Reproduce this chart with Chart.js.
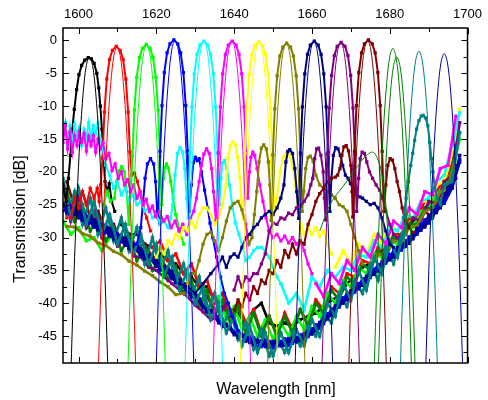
<!DOCTYPE html>
<html><head><meta charset="utf-8">
<script src="https://cdn.jsdelivr.net/npm/chart.js@4.4.1/dist/chart.umd.min.js"></script>
<style>html,body{margin:0;padding:0;background:#fff;}canvas{display:block;}</style>
</head><body>
<canvas id="c" width="488" height="400"></canvas>
<script>
// ---------- tick labels / titles ----------
const xTickLabels = [1600, 1620, 1640, 1660, 1680, 1700];
const yTickLabels = [0, -5, -10, -15, -20, -25, -30, -35, -40, -45];
const xTitle = 'Wavelength [nm]';
const yTitle = 'Transmission [dB]';

// ---------- shared wavelength grids for the noise floor ----------
const gridA = [1596,1598,1600,1602,1604,1606,1608,1610,1612,1614,1616,1618,1620,1622,1624,1626,1628,1630,1632,1634,1636,1638,1640,1642,1644,1646,1648,1650,1652,1654,1656,1658,1660,1662,1664,1666,1668,1670,1672,1674,1676,1678,1680,1682,1684,1686,1688,1690,1692,1694,1696,1698];
const gridB = [1597,1599,1601,1603,1605,1607,1609,1611,1613,1615,1617,1619,1621,1623,1625,1627,1629,1631,1633,1635,1637,1639,1641,1643,1645,1647,1649,1651,1653,1655,1657,1659,1661,1663,1665,1667,1669,1671,1673,1675,1677,1679,1681,1683,1685,1687,1689,1691,1693,1695,1697];

// ---------- floor values (dB) ----------
const blackFloor = [null,null,null,null,null,null,null,-28,-29.5,-29.5,
 -31,-31.5,-32.5,-33.5,-34,-35.5,-36,-37.5,-37.5,-39.5,
 -40,-41.5,-41.5,-43,-41,-40,-43,-43.5,-43,-43.5,
 -42.5,-42,-41.5,-40.5,-39.5,-39,-37,-36,-34.5,-34,
 -32.5,-31.5,-30.5,-29.5,-28,-27,-25.5,-24.5,-23,-21,
 -17];
const redFloor = [-27,null,null,null,null,null,null,null,null,null,
 null,-31.5,-30.5,-33.5,-32.5,-35.5,-34,-37.5,-36.5,-40,
 -38.5,-42,-40,-43,-41,-44.5,-42,-45,-41.5,-44,
 -41,-43,-39.5,-41,-37.5,-38.5,-35.5,-36,-33.5,-34,
 -31.5,-32,-29.5,-29.5,-27,-27,-24.5,-24.5,-22,-20.5,
 -15.5];
const limeFloor = [-27.5,-29.5,-28.5,-30.5,-30,-32,-30,null,null,null,
 null,null,null,null,null,null,-35.5,-38,-37.5,-40,
 -39,-42.5,-40.5,-44,-42,-45,-42.5,-45.5,-43,-45,
 -42,-44,-40.5,-42,-38.5,-40,-36.5,-37.5,-34.5,-35.5,
 -32.5,-33,-30.5,-31,-28.5,-28.5,-26,-25.5,-23.5,-22,
 -20,-15];
const blueFloor = [-24.5,-25.8,-26,-27.2,-27.5,-28.6,-28.8,-30,-30.3,-31.5,
 null,null,null,null,null,null,null,null,null,null,
 null,null,-44.2,-45.8,-45.2,-46.6,-45.8,-46.6,-45.4,-46.1,
 -44.8,-45.1,-43.3,-43.1,-40.9,-40.6,-38.5,-38.3,-36.3,-36.1,
 -34.1,-33.9,-32,-31.9,-29.9,-29.5,-27.3,-26.9,-24.4,-23.4,
 -19.5];
const blueFloor2 = [-25,-26.8,-26.2,-28,-27.6,-29.4,-29,-30.8,-30.4,-32.2,
 null,null,null,null,null,null,null,null,null,null,
 null,null,null,-45.8,-45.2,-46.6,-45.6,-46.8,-45.8,-46.4,
 -45.2,-45.6,-43.9,-43.8,-41.6,-41.2,-39.2,-39,-37,-36.8,
 -34.8,-34.6,-32.6,-32.5,-30.5,-30.2,-28,-27.8,-25.3,-24.8,
 -22.5,-18.5];
const cyanFloor = [null,null,null,null,null,null,null,null,null,null,
 null,null,null,null,null,null,null,null,null,null,
 null,null,null,null,null,null,null,null,-37,-40,
 -38.5,-41,-36,-37.5,-35,-36,-34.5,-35,-32.5,-33,
 -30.5,-31.5,-28.5,-29,-26.5,-27,-24.5,-24,-21.5,-20.5,
 -16,-11];
const magentaFloor = [null,null,null,null,null,null,null,null,null,null,
 null,null,null,null,null,null,null,null,null,null,
 null,null,null,null,null,null,null,null,null,null,
 null,null,-37,-39,-35.5,-37,-33.5,-35,-31.5,-33,
 -29.5,-31,-27.5,-28.5,-25.5,-26.5,-23,-23.5,-19.5,-19,
 -11.5];
const yellowFloor = [-24,-27,-26,-28.5,-27,-29.5,-28.5,-31,-30.5,-32.5,
 -32,-33.5,null,null,null,null,null,null,null,null,
 null,null,null,null,null,null,null,null,null,null,
 null,null,null,null,null,-34.5,-32,-34,-31,-32.5,
 -29.5,-31,-28,-29,-26.5,-27,-24.5,-24.5,-22,-21.5,
 -17.5,-10.5];
const oliveFloor = [-28.3,-28.4,-29.4,-29.8,-30.8,-31.2,-32.1,-32.6,-33.6,-34.2,
 -35.1,-35.8,-36.8,-37.5,-38.7,-38.5,null,null,null,null,
 null,null,null,null,null,null,null,null,null,null,
 null,null,null,null,null,null,null,null,null,-34.5,
 -32.5,-32.8,-30.5,-30.6,-28.5,-28.2,-26,-25.6,-23,-22.4,
 -17.5];
const navyFloor = [-24.8,-26.3,-25.9,-27.6,-27.3,-29,-28.7,-30.4,-30.1,-31.9,
 -31.7,-33.5,-33.3,-35.2,-35.2,-37.2,null,null,null,null,
 null,null,null,null,null,null,null,null,null,null,
 null,null,null,null,null,null,null,null,null,null,
 null,null,null,-31.5,-31.3,-29.3,-28.8,-26.7,-26.1,-23.6,
 -22.5,-17.5];
const navyFloor2 = [-26.2,-25.4,-27.4,-26.6,-28.8,-28.1,-30.2,-29.6,-31.7,-31.2,
 -33.2,-32.8,-34.9,-34.6,-36.8,null,null,null,null,null,
 null,null,null,null,null,null,null,null,null,null,
 null,null,null,null,null,null,null,null,null,null,
 null,null,null,-31.2,-30.9,-28.6,-28.4,-25.9,-25.5,-22.4,
 -21];
const royalFloor = [-25.9,-25.6,-27,-26.9,-28.4,-28.3,-29.8,-29.7,-31.2,-31.2,
 -32.8,-32.8,-34.4,-34.5,-36.3,-36.5,-38.4,-38.7,-40.7,-41.1,
 -43,-43.2,-44.8,-44.7,-46,-45.6,-46.6,-45.8,-46.5,-45.4,
 -45.9,-44.6,-44.7,-42.9,-42.4,-40.4,-40,-38.1,-37.8,-35.9,
 -35.6,-33.7,-33.4,-31.6,-31.4,-29.4,-28.9,-26.8,-26.2,-23.8,
 -22.4,-18.1];
const royalFloor2 = [-26.2,-26,-27.4,-27.3,-28.8,-28.7,-30.2,-30.1,-31.6,-31.6,
 -33.2,-33.2,-34.9,-35,-36.8,-37,-39,-39.3,-41.3,-41.6,
 -43.5,-43.6,-45.2,-44.9,-46.3,-45.7,-46.7,-45.8,-46.4,-45.3,
 -45.7,-44.3,-44.2,-42.3,-41.8,-39.8,-39.5,-37.6,-37.3,-35.4,
 -35.1,-33.2,-33,-31.1,-30.9,-28.7,-28.3,-26.1,-25.4,-22.7,
 -20];
const purpleFloor = [-22,-27.5,-23.5,-28.5,-26,-30,-28.5,-31.3,-30,-32.8,
 -33,-34.5,-35,-36,-37,-38,-39,-40.3,-41.3,-42.5,
 -42,-40,null,null,null,null,null,null,null,null,
 null,null,null,null,null,null,null,null,null,null,
 null,null,null,-30,-29.5,-27,-27.5,-24.5,-24.8,-21.5,
 -20.5,-12.5];
const maroonFloor = [-21.5,-25.5,-23,-27,-26,-29,-28,-30.5,-29.5,-31.5,
 -31,-33,-33,-35,-35,-37,-37,-39.5,-39,-41,
 -40.5,-42,null,null,null,null,null,null,null,null,
 null,null,null,null,null,null,null,null,null,null,
 null,null,null,null,null,-28,-26,-27,-23.5,-23,
 -16];
const dkgreenFloor = [-23,-27.5,-25,-29,-27,-30.5,-28.5,-32,-30,-33.5,
 -31.5,-35,-33,-36.5,-34.5,-38.5,-36.5,-40.5,-38,-42,
 -39.5,-43,-40.5,-44.5,-41.5,-45,-42,-45,-42,-44.5,
 -41,-43.5,-40,-41.5,-38,-39.5,-36,-37,-34,-35,
 -32,-33,-30,-30.5,-28,-28,-25.5,-25.5,-23,-22,
 -16.5];
const tealFloor = [-21,-27,-22.5,-28,-24.5,-29.5,-26.5,-31,-28,-32.5,
 -29.5,-34,-31,-35.8,-33,-38,-35,-40,-37.5,-42.5,
 -40,-44.5,-42,-46.5,-43.5,-47.5,-44.5,-48,-44.5,-47.5,
 -44,-46.5,-42.5,-45,-40,-42,-37,-39.5,-35,-38,
 -33,-35.5,-30.5,-33,-28,null,null,null,null,-22,
 -21.5,-14];
const tealFloor2 = [-26.5,-23,-28,-24,-29.5,-25.5,-30.5,-27,-32,-28.5,
 -34,-30,-35,-32,-37,-34,-39,-36,-41.5,-38.5,
 -43.5,-41,-45.5,-43,-47,-44,-48,-45,-47.5,-44.5,
 -46.5,-43.5,-45,-41.5,-43,-38.5,-40.5,-36.5,-38.5,-34,
 -36.5,-31.5,-34,-29.5,null,null,null,null,null,-23,
 -19];

// ---------- measured channel spectra [wavelength nm, dB] ----------
const blackMeas = [[1596,-22],[1596.8,-24.5],[1597.4,-21],[1597.9,-17.5],[1598.4,-13.5],[1598.9,-10.5],[1599.5,-7.5],[1600.1,-5.2],[1600.8,-3.8],[1601.6,-3],[1602.5,-2.6],[1603.3,-2.8],[1604,-3.5],[1604.7,-5],[1605.2,-7.2],[1605.6,-10],[1606,-13.5],[1606.4,-17.5],[1606.8,-21.5],[1607.3,-23],[1607.9,-21.8],[1608.5,-24.5],[1609.3,-26]];
const redMeas = [[1598,-27],[1599,-24],[1600,-25.5],[1601,-23],[1602,-25],[1603,-22.5],[1604,-24],[1604.8,-22.5],[1605.3,-24.5],[1605.7,-22],[1606.15,-17.9],[1606.65,-10.9],[1607.25,-5.9],[1607.95,-2.9],[1608.7,-1.5],[1609.7,-0.9],[1610.7,-1.5],[1611.45,-2.9],[1612.15,-5.9],[1612.75,-10.9],[1613.2,-17],[1613.7,-20.5],[1614.4,-20.2],[1615.1,-21.5],[1615.8,-23],[1616.6,-25.5],[1617.5,-27],[1618.5,-29]];
const limeMeas = [[1606.5,-25],[1607.3,-23],[1608.2,-24.5],[1609.2,-24],[1609.8,-21.5],[1610.5,-19.8],[1611.1,-19.2],[1611.8,-20],[1612.4,-23],[1612.9,-28],[1613.85,-17.6],[1614.35,-10.6],[1614.95,-5.6],[1615.65,-2.6],[1616.4,-1.2],[1617.4,-0.6],[1618.4,-1.2],[1619.15,-2.6],[1619.85,-5.6],[1620.45,-10.6],[1620.95,-17.6],[1621.35,-25],[1621.8,-21],[1622.2,-19.3],[1622.6,-18.8],[1623.1,-19.4],[1623.7,-21.5],[1624.3,-24],[1625,-26.5],[1626,-29],[1627,-31]];
const blueMeas = [[1615,-31],[1616,-28.5],[1616.6,-24.5],[1617.1,-21],[1617.7,-18.8],[1618.5,-18],[1619.3,-18.8],[1619.8,-21.5],[1620.2,-26],[1620.5,-27],[1620.95,-16.9],[1621.45,-9.9],[1622.05,-4.9],[1622.75,-1.9],[1623.5,-0.5],[1624.5,0.1],[1625.5,-0.5],[1626.25,-1.9],[1626.95,-4.9],[1627.55,-9.9],[1628.05,-16.9],[1628.5,-26],[1629,-22],[1629.5,-18.6],[1630,-17.8],[1630.5,-18.3],[1631,-18],[1631.6,-20],[1632.4,-22.8],[1633.2,-25.5],[1633.8,-27.8],[1634.5,-30],[1635.5,-33],[1636.5,-36],[1637.5,-38.5],[1638.5,-40],[1639.5,-42],[1640.5,-43.5],[1641,-44.2]];
const cyanMeas = [[1596,-14],[1596.6,-12.5],[1597.2,-16],[1597.8,-13],[1598.4,-15.5],[1599,-12.8],[1599.6,-14.5],[1600.2,-13.2],[1600.8,-16],[1601.4,-13.5],[1602,-14.8],[1602.6,-12.5],[1603.2,-15],[1603.8,-13],[1604.4,-14.2],[1605,-12.6],[1605.6,-15],[1606.2,-16.5],[1607,-19],[1608,-20.5],[1609,-22.5],[1610,-21.5],[1611,-23.5],[1612,-22.5],[1613,-24.5],[1614,-23.5],[1615,-25],[1616,-24.5],[1617,-26],[1618,-25.5],[1619,-27],[1620,-26.5],[1621,-28],[1622,-27.5],[1623,-28.5],[1623.7,-27],[1624.2,-25],[1624.8,-20.5],[1625.4,-17.2],[1626.1,-16.3],[1626.8,-17],[1627.3,-19.5],[1627.8,-24],[1628.2,-27],[1628.65,-17.1],[1629.15,-10.1],[1629.75,-5.1],[1630.45,-2.1],[1631.2,-0.7],[1632.2,-0.1],[1633.2,-0.7],[1633.95,-2.1],[1634.65,-5.1],[1635.25,-10.1],[1635.75,-17.1],[1636.2,-25],[1636.6,-21],[1637,-18.6],[1637.5,-18.3],[1638.1,-19.5],[1638.8,-22],[1639.5,-25],[1640.3,-27.8],[1641.2,-29.5],[1642.2,-31.5],[1643,-33.5],[1644,-33],[1645,-32],[1646,-31.5],[1647,-31.5],[1648,-32],[1649,-33],[1650,-34.5],[1651,-36],[1652,-37]];
const magentaMeas = [[1596,-15.5],[1596.6,-13],[1597.2,-16.5],[1597.8,-14],[1598.4,-17],[1599,-14.5],[1599.6,-16],[1600.2,-13.8],[1600.8,-15.5],[1601.4,-14.2],[1602,-16.8],[1602.6,-14.6],[1603.2,-16],[1603.8,-14.5],[1604.4,-17],[1605,-15],[1605.6,-16.5],[1606.3,-15.5],[1607,-18],[1607.8,-17.2],[1608.6,-19.8],[1609.4,-18.8],[1610.2,-21],[1611,-20],[1611.8,-22],[1612.6,-21.2],[1613.4,-23],[1614.2,-22],[1615,-24],[1615.8,-23],[1616.6,-25],[1617.4,-24.2],[1618.2,-26],[1619,-25.2],[1619.8,-26.8],[1620.8,-26],[1621.8,-27.5],[1622.8,-26.8],[1623.8,-28.5],[1624.8,-27.5],[1625.8,-29],[1626.8,-28],[1627.8,-29.5],[1628.8,-27],[1629.6,-26],[1630.3,-24],[1631,-21.5],[1631.6,-19],[1632.2,-17.3],[1632.9,-16.5],[1633.6,-17.2],[1634.2,-19.5],[1634.7,-23],[1635.3,-27.5],[1635.95,-17.1],[1636.45,-10.1],[1637.05,-5.1],[1637.75,-2.1],[1638.5,-0.7],[1639.5,-0.1],[1640.5,-0.7],[1641.25,-2.1],[1641.95,-5.1],[1642.55,-10.1],[1643.05,-17.1],[1643.5,-24],[1643.9,-20],[1644.3,-17.8],[1644.8,-17],[1645.3,-17.5],[1645.9,-19.5],[1646.6,-22],[1647.4,-24.5],[1648.2,-27],[1649,-29],[1650,-30],[1651,-29.5],[1652,-30.5],[1653,-29.8],[1654,-30.8],[1655,-30],[1656,-31],[1657,-30.5],[1658,-32],[1659,-34],[1660,-35.5]];
const yellowMeas = [[1620,-33],[1621,-31.5],[1622,-32.5],[1623,-30.5],[1624,-31],[1625,-29.5],[1626,-30],[1627,-28.5],[1628,-29],[1629,-27.5],[1630,-28.5],[1631,-26.5],[1632,-25.5],[1633,-25.5],[1634,-26.5],[1635,-28],[1636,-27],[1637,-25],[1637.9,-22],[1638.4,-18],[1639,-16],[1639.6,-15.4],[1640.3,-15.9],[1640.9,-17.8],[1641.5,-21],[1641.9,-25],[1642.3,-27.2],[1642.75,-17.2],[1643.25,-10.2],[1643.85,-5.2],[1644.55,-2.2],[1645.3,-0.8],[1646.3,-0.2],[1647.3,-0.8],[1648.05,-2.2],[1648.75,-5.2],[1649.35,-10.2],[1649.85,-17.2],[1650.3,-26],[1651,-24],[1651.8,-20],[1652.6,-17.8],[1653.4,-17.1],[1654.2,-17.4],[1655,-19],[1655.7,-22],[1656.4,-25.5],[1657.2,-28],[1658,-29.5],[1659,-28.5],[1660,-29.5],[1661,-28.5],[1662,-29.8],[1663,-29],[1664,-31],[1665,-32.5]];
const oliveMeas = [[1628,-37],[1629,-35.5],[1630,-35.5],[1631,-33.5],[1632,-31],[1633,-29.5],[1634,-29.2],[1635,-30.5],[1636,-32],[1637,-30],[1638,-27.5],[1639,-25.5],[1640,-24.8],[1641,-24.5],[1642,-25.8],[1643,-28],[1643.8,-31],[1644.6,-30],[1645.2,-26.5],[1645.8,-23],[1646.4,-18.5],[1647,-16.4],[1647.6,-15.9],[1648.3,-16.5],[1648.8,-18.5],[1649.2,-22],[1649.5,-27.4],[1649.95,-17.4],[1650.45,-10.4],[1651.05,-5.4],[1651.75,-2.4],[1652.5,-1],[1653.5,-0.4],[1654.5,-1],[1655.25,-2.4],[1655.95,-5.4],[1656.55,-10.4],[1657.05,-17.4],[1657.5,-26],[1657.9,-23],[1658.4,-19.5],[1659,-17.8],[1659.6,-17.6],[1660.3,-18.4],[1661,-20.5],[1662,-22],[1663,-22.5],[1664,-23],[1665,-23.5],[1666,-24],[1667,-25],[1668,-25.3],[1669,-26],[1670,-28],[1671,-30],[1672,-32],[1673,-34]];
const navyMeas = [[1626,-37],[1628,-37.5],[1630,-38.5],[1632,-37],[1634,-35.5],[1636,-34],[1637,-33],[1638,-34.5],[1639,-33],[1640,-32.5],[1641,-33],[1642,-31.5],[1643,-30],[1644,-29.5],[1645,-28.5],[1646,-28],[1647,-27],[1648,-26.5],[1649,-26],[1650,-26.5],[1651,-25.5],[1652,-24],[1652.8,-22],[1653.3,-18.5],[1653.8,-16.9],[1654.3,-16.6],[1655,-17.2],[1655.6,-19.5],[1656.1,-23],[1656.6,-27.1],[1657.05,-17.1],[1657.55,-10.1],[1658.15,-5.1],[1658.85,-2.1],[1659.6,-0.7],[1660.6,-0.1],[1661.6,-0.7],[1662.35,-2.1],[1663.05,-5.1],[1663.65,-10.1],[1664.15,-17.1],[1664.6,-26],[1665,-21],[1665.5,-17.5],[1666.1,-16.3],[1666.7,-16.5],[1667.3,-17.5],[1667.9,-19],[1668.6,-20.5],[1669.3,-21],[1669.9,-21.8],[1670.7,-22.5],[1671.5,-23.5],[1672.3,-23.8],[1673,-24],[1674,-24.5],[1675,-25],[1676,-24.8],[1677,-25.5],[1678,-27],[1679,-29],[1680,-31],[1681,-31.5]];
const purpleMeas = [[1640,-38],[1641,-36],[1642,-37.5],[1643,-36],[1644,-36.5],[1645,-35.5],[1646,-35.5],[1647,-34],[1648,-32.5],[1649,-29],[1650,-27.8],[1651,-28],[1652,-27],[1653,-27.2],[1654,-26.3],[1655,-26.5],[1656,-25.5],[1657,-25.2],[1658,-24.5],[1659,-23.5],[1659.7,-22],[1660.2,-21],[1660.7,-18],[1661.2,-16.5],[1661.7,-16.4],[1662.3,-17.5],[1662.9,-20],[1663.2,-24],[1663.5,-27.3],[1663.95,-17.3],[1664.45,-10.3],[1665.05,-5.3],[1665.75,-2.3],[1666.5,-0.9],[1667.5,-0.3],[1668.5,-0.9],[1669.25,-2.3],[1669.95,-5.3],[1670.55,-10.3],[1671.05,-17.3],[1671.5,-26],[1672,-21],[1672.4,-18],[1672.9,-17],[1673.5,-17.2],[1674.1,-18.5],[1674.8,-20],[1675.6,-21],[1676.5,-22],[1677.4,-22.8],[1678.2,-24],[1679,-26],[1680,-28],[1681,-29.5],[1682,-30]];
const maroonMeas = [[1640,-41],[1641,-39.5],[1642,-40.5],[1643,-38.5],[1644,-39.5],[1645,-37.5],[1646,-38.5],[1647,-36.5],[1648,-37],[1649,-35],[1650,-35.5],[1651,-33.5],[1652,-34.5],[1653,-32],[1654,-33],[1655,-31],[1656,-32.5],[1657,-30.5],[1658,-31],[1659,-28],[1660,-26.5],[1661,-24.5],[1662,-23.3],[1663,-22.5],[1664,-21.5],[1665,-21],[1666,-20.8],[1666.6,-20.5],[1667.2,-19.5],[1667.7,-17.5],[1668.2,-16.2],[1668.8,-16],[1669.4,-16.8],[1670,-19],[1670.3,-23],[1670.5,-26.9],[1670.95,-16.9],[1671.45,-9.9],[1672.05,-4.9],[1672.75,-1.9],[1673.5,-0.5],[1674.5,0.1],[1675.5,-0.5],[1676.25,-1.9],[1676.95,-4.9],[1677.55,-9.9],[1678.05,-16.9],[1678.5,-26],[1679,-22],[1679.5,-19],[1680.1,-18],[1680.7,-18.2],[1681.3,-19.5],[1681.9,-21.5],[1682.5,-23],[1683.2,-25.5],[1684,-27.5],[1685,-28.5],[1686,-29.2]];
const tealMeas = [[1683.5,-27],[1684.2,-24],[1684.8,-21.5],[1685.4,-19],[1685.9,-17.2],[1686.4,-15.2],[1686.9,-13.5],[1687.5,-12.2],[1688.1,-11.5],[1688.6,-11.4],[1689.2,-11.8],[1689.8,-13],[1690.3,-15.5],[1690.7,-18],[1691.1,-20],[1691.6,-22.5],[1692.2,-24],[1693,-25],[1694,-22]];

// ---------- simulated (thin line) spectra [wavelength nm, dB] ----------
const simBlack = [[1597.6,-59.3],[1598.8,-36.1],[1599.6,-24],[1600.4,-14.6],[1601.2,-7.9],[1602,-3.8],[1602.8,-2.5],[1603.6,-3.8],[1604.4,-7.9],[1605.2,-14.6],[1606,-24],[1606.8,-36.1],[1608,-59.3]];
const simRed = [[1604.7,-57.8],[1605.9,-34.6],[1606.7,-22.5],[1607.5,-13.1],[1608.3,-6.4],[1609.1,-2.3],[1609.9,-1],[1610.7,-2.3],[1611.5,-6.4],[1612.3,-13.1],[1613.1,-22.5],[1613.9,-34.6],[1615.1,-57.8]];
const simLime = [[1612.3,-57.5],[1613.5,-34.3],[1614.3,-22.2],[1615.1,-12.8],[1615.9,-6.1],[1616.7,-2],[1617.5,-0.7],[1618.3,-2],[1619.1,-6.1],[1619.9,-12.8],[1620.7,-22.2],[1621.5,-34.3],[1622.7,-57.5]];
const simBlue = [[1619.6,-56.8],[1620.8,-33.6],[1621.6,-21.5],[1622.4,-12.1],[1623.2,-5.4],[1624,-1.3],[1624.8,0],[1625.6,-1.3],[1626.4,-5.4],[1627.2,-12.1],[1628,-21.5],[1628.8,-33.6],[1630,-56.8]];
const simCyan = [[1627,-56.9],[1628.2,-33.7],[1629,-21.6],[1629.8,-12.2],[1630.6,-5.5],[1631.4,-1.4],[1632.2,-0.1],[1633,-1.4],[1633.8,-5.5],[1634.6,-12.2],[1635.4,-21.6],[1636.2,-33.7],[1637.4,-56.9]];
const simMagenta = [[1634.2,-56.9],[1635.4,-33.7],[1636.2,-21.6],[1637,-12.2],[1637.8,-5.5],[1638.6,-1.4],[1639.4,-0.1],[1640.2,-1.4],[1641,-5.5],[1641.8,-12.2],[1642.6,-21.6],[1643.4,-33.7],[1644.6,-56.9]];
const simYellow = [[1641.2,-57],[1642.4,-33.8],[1643.2,-21.7],[1644,-12.3],[1644.8,-5.6],[1645.6,-1.5],[1646.4,-0.2],[1647.2,-1.5],[1648,-5.6],[1648.8,-12.3],[1649.6,-21.7],[1650.4,-33.8],[1651.6,-57]];
const simOlive = [[1648.2,-57.2],[1649.4,-34],[1650.2,-21.9],[1651,-12.5],[1651.8,-5.8],[1652.6,-1.7],[1653.4,-0.4],[1654.2,-1.7],[1655,-5.8],[1655.8,-12.5],[1656.6,-21.9],[1657.4,-34],[1658.6,-57.2]];
const simNavy = [[1655.3,-56.9],[1656.5,-33.7],[1657.3,-21.6],[1658.1,-12.2],[1658.9,-5.5],[1659.7,-1.4],[1660.5,-0.1],[1661.3,-1.4],[1662.1,-5.5],[1662.9,-12.2],[1663.7,-21.6],[1664.5,-33.7],[1665.7,-56.9]];
const simPurple = [[1662.2,-57.1],[1663.4,-33.9],[1664.2,-21.8],[1665,-12.4],[1665.8,-5.7],[1666.6,-1.6],[1667.4,-0.3],[1668.2,-1.6],[1669,-5.7],[1669.8,-12.4],[1670.6,-21.8],[1671.4,-33.9],[1672.6,-57.1]];
const simMaroon = [[1669.1,-56.8],[1670.3,-33.6],[1671.1,-21.5],[1671.9,-12.1],[1672.7,-5.4],[1673.5,-1.3],[1674.3,0],[1675.1,-1.3],[1675.9,-5.4],[1676.7,-12.1],[1677.5,-21.5],[1678.3,-33.6],[1679.5,-56.8]];
const simGreenA = [[1675.6,-58],[1676.8,-34.8],[1677.6,-22.7],[1678.4,-13.3],[1679.2,-6.6],[1680,-2.5],[1680.8,-1.2],[1681.6,-2.5],[1682.4,-6.6],[1683.2,-13.3],[1684,-22.7],[1684.8,-34.8],[1686,-58]];
const simGreenB = [[1676.6,-59.3],[1677.8,-36.1],[1678.6,-24],[1679.4,-14.6],[1680.2,-7.9],[1681,-3.8],[1681.8,-2.5],[1682.6,-3.8],[1683.4,-7.9],[1684.2,-14.6],[1685,-24],[1685.8,-36.1],[1687,-59.3]];
const simGreenSide = [[1662,-29],[1664.8,-24.8],[1668,-22.2],[1671.1,-19.7],[1673.5,-17.8],[1675.6,-17],[1677,-18.2],[1678.2,-21],[1679,-25],[1679.6,-30]];
const simTeal = [[1682.3,-58.4],[1683.5,-35.2],[1684.3,-23.1],[1685.1,-13.7],[1685.9,-7],[1686.7,-2.9],[1687.5,-1.6],[1688.3,-2.9],[1689.1,-7],[1689.9,-13.7],[1690.7,-23.1],[1691.5,-35.2],[1692.7,-58.4]];
const simRoyal = [[1688.8,-58.8],[1690,-35.6],[1690.8,-23.5],[1691.6,-14.1],[1692.4,-7.4],[1693.2,-3.3],[1694,-2],[1694.8,-3.3],[1695.6,-7.4],[1696.4,-14.1],[1697.2,-23.5],[1698,-35.6],[1699.2,-58.8]];

// ---------- styling ----------
const FONT = '"Liberation Sans", Arial, Helvetica, sans-serif';
const C = {black:'#000000', red:'#ff0000', lime:'#00ff00', blue:'#0000ff', cyan:'#00ffff', magenta:'#ff00ff',
  yellow:'#ffff00', olive:'#808000', navy:'#000080', purple:'#800080', maroon:'#800000', dkgreen:'#008000',
  teal:'#008080', royal:'#0000a0'};

function onGrid(grid, vals) { return grid.map((x, i) => [x, vals[i]]); }
function meas(data, color, bw) {
  return {data, borderColor: color, backgroundColor: color, pointBackgroundColor: color, borderWidth: bw || 2,
    pointStyle: 'rect', pointRadius: 2.3, pointBorderWidth: 0, pointHoverRadius: 0, tension: 0, spanGaps: false};
}
function floor(grid, vals, color) { return meas(onGrid(grid, vals), color, 2.6); }
function sim(data, color) {
  return {data, borderColor: color, backgroundColor: color, borderWidth: 1, pointRadius: 0, pointHoverRadius: 0,
    tension: 0.35, spanGaps: false};
}

const layered = [ // bottom -> top
  // noise floors
  floor(gridB, blackFloor, C.black), floor(gridB, redFloor, C.red), floor(gridA, limeFloor, C.lime),
  floor(gridA, yellowFloor, C.yellow), floor(gridA, cyanFloor, C.cyan), floor(gridB, magentaFloor, C.magenta),
  floor(gridB, maroonFloor, C.maroon), floor(gridB, dkgreenFloor, C.dkgreen), floor(gridA, purpleFloor, C.purple),
  floor(gridB, oliveFloor, C.olive),
  floor(gridB, tealFloor2, C.teal),
  floor(gridB, blueFloor, C.blue), floor(gridA, blueFloor2, C.blue),
  floor(gridA, navyFloor, C.navy), floor(gridB, navyFloor2, C.navy),
  floor(gridA, royalFloor, C.royal), floor(gridB, royalFloor2, C.royal),
  floor(gridA, tealFloor, C.teal),
  // channel responses
  meas(blackMeas, C.black), meas(redMeas, C.red), meas(limeMeas, C.lime), meas(blueMeas, C.blue),
  meas(cyanMeas, C.cyan), meas(magentaMeas, C.magenta), meas(yellowMeas, C.yellow), meas(oliveMeas, C.olive),
  meas(navyMeas, C.navy), meas(purpleMeas, C.purple), meas(maroonMeas, C.maroon), meas(tealMeas, C.teal),
  // simulated lines
  sim(simBlack, C.black), sim(simRed, C.red), sim(simLime, C.lime), sim(simBlue, C.blue),
  sim(simCyan, C.cyan), sim(simMagenta, C.magenta), sim(simYellow, C.yellow), sim(simOlive, C.olive),
  sim(simNavy, C.navy), sim(simPurple, C.purple), sim(simMaroon, C.maroon),
  sim(simGreenSide, C.dkgreen), sim(simGreenA, C.dkgreen), sim(simGreenB, C.dkgreen),
  sim(simTeal, C.teal), sim(simRoyal, C.royal)
];
layered.forEach((d, i) => { d.order = layered.length - i; });

const frameAndTicks = {
  id: 'frameAndTicks',
  afterDatasetsDraw(chart) {
    const {ctx, chartArea: a, scales} = chart;
    const x = scales.x, y = scales.y;
    ctx.save();
    ctx.strokeStyle = '#000';
    ctx.lineWidth = 1;
    ctx.beginPath();
    x.ticks.forEach(t => {
      const px = Math.round(x.getPixelForValue(t.value)) + 0.5;
      const len = xTickLabels.includes(t.value) ? 6 : 4;
      ctx.moveTo(px, a.top); ctx.lineTo(px, a.top + len);
      ctx.moveTo(px, a.bottom); ctx.lineTo(px, a.bottom - len);
    });
    y.ticks.forEach(t => {
      const py = Math.round(y.getPixelForValue(t.value)) + 0.5;
      const len = yTickLabels.includes(t.value) ? 6 : 4;
      ctx.moveTo(a.left, py); ctx.lineTo(a.left + len, py);
      ctx.moveTo(a.right, py); ctx.lineTo(a.right - len, py);
    });
    ctx.stroke();
    ctx.lineWidth = 1.5;
    ctx.strokeRect(a.left, a.top, a.right - a.left, a.bottom - a.top);
    ctx.restore();
  },
  afterDraw(chart) {
    const {ctx} = chart;
    ctx.save();
    ctx.fillStyle = '#000';
    ctx.font = '16px ' + FONT;
    ctx.textAlign = 'center';
    ctx.textBaseline = 'alphabetic';
    ctx.fillText(xTitle, 276, 394);
    ctx.translate(24.5, 219);
    ctx.rotate(-Math.PI / 2);
    ctx.fillText(yTitle, 0, 0);
    ctx.restore();
  }
};

new Chart(document.getElementById('c'), {
  type: 'line',
  data: {datasets: layered},
  options: {
    responsive: false, animation: false, devicePixelRatio: 1, events: [],
    layout: {padding: {left: 0, right: 11, top: 0, bottom: 0}},
    plugins: {legend: {display: false}, tooltip: {enabled: false}, title: {display: false}},
    scales: {
      x: {type: 'linear', position: 'top', min: 1596, max: 1700,
        grid: {display: false, drawTicks: false}, border: {display: false},
        ticks: {stepSize: 10, includeBounds: false, autoSkip: false, maxRotation: 0, color: '#000',
          font: {family: FONT, size: 13}, padding: 6,
          callback: v => xTickLabels.includes(v) ? String(v) : ''},
        afterFit: s => { s.height = 28; }},
      x2: {type: 'linear', position: 'bottom', min: 1596, max: 1700,
        grid: {display: false, drawTicks: false}, border: {display: false},
        ticks: {display: false}, afterFit: s => { s.height = 37; }},
      y: {type: 'linear', position: 'left', min: -49.1, max: 1.9,
        grid: {display: false, drawTicks: false}, border: {display: false},
        ticks: {stepSize: 2.5, includeBounds: false, autoSkip: false, color: '#000',
          font: {family: FONT, size: 13}, padding: 6,
          callback: v => yTickLabels.includes(v) ? String(v) : ''},
        afterFit: s => { s.width = 63; }}
    }
  },
  plugins: [frameAndTicks]
});
</script>
</body></html>
